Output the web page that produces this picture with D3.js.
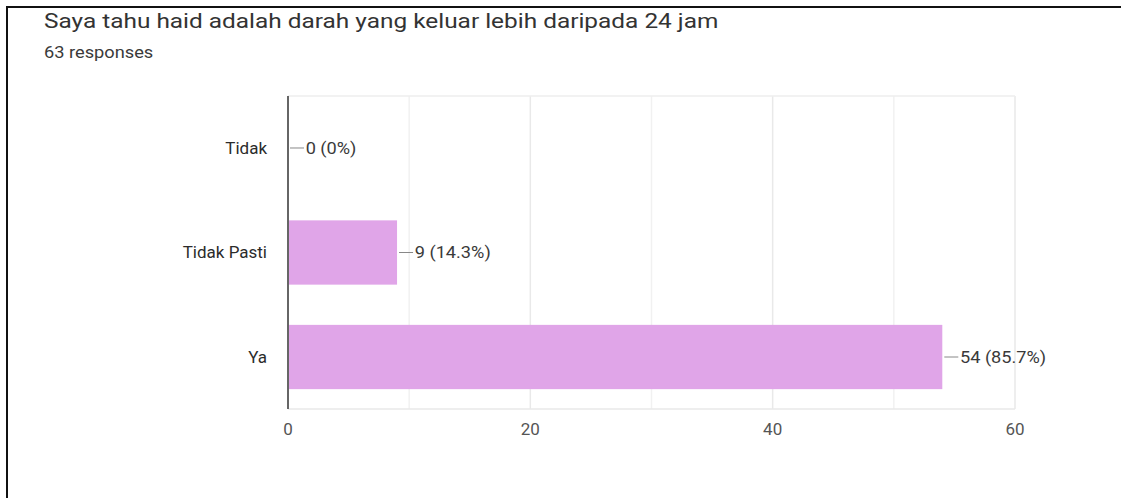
<!DOCTYPE html>
<html>
<head>
<meta charset="utf-8">
<script src="https://cdn.jsdelivr.net/npm/d3@7"></script>
<style>
  html, body { margin: 0; padding: 0; background: #fff; }
  text { font-family: Roboto, Arial, sans-serif; }
</style>
</head>
<body>
<main></main>
<script>
var categories = ["Tidak", "Tidak Pasti", "Ya"];
var counts = [0, 9, 54];
var percentLabels = ["0%", "14.3%", "85.7%"];
var tickValues = [0, 20, 40, 60];
var gridValues = [0, 10, 20, 30, 40, 50, 60];
var title = "Saya tahu haid adalah darah yang keluar lebih daripada 24 jam";
var subtitle = "63 responses";

var rows = categories.map(function (c, i) {
    return { name: c, value: counts[i], pct: percentLabels[i] };
});

var svg = d3.select("main")
    .append("svg")
    .attr("width", 1121)
    .attr("height", 498);

// the screenshot is a bit stretched sideways, so text gets a small x scale
function stretchedText(parent, px, py, k) {
    return parent.append("text")
        .attr("transform", "translate(" + px + "," + py + ") scale(" + k + ",1)");
}

// frame lines of the screenshot
svg.append("line")
    .attr("x1", 6).attr("x2", 1121).attr("y1", 7).attr("y2", 7)
    .attr("stroke", "#111").attr("stroke-width", 2);
svg.append("line")
    .attr("x1", 7).attr("x2", 7).attr("y1", 6).attr("y2", 498)
    .attr("stroke", "#111").attr("stroke-width", 2);

stretchedText(svg, 44, 28, 1.22)
    .attr("font-size", 20)
    .attr("fill", "#333")
    .text(title);

stretchedText(svg, 44, 58, 1.14)
    .attr("font-size", 16)
    .attr("fill", "#3a3a3a")
    .text(subtitle);

var plotLeft = 288, plotRight = 1015, plotTop = 96, plotBottom = 409;

var x = d3.scaleLinear().domain([0, 60]).range([plotLeft, plotRight]);
var y = d3.scaleBand().domain(categories).range([plotTop, plotBottom]).paddingInner(0.385).paddingOuter(0.19);

var plot = svg.append("g").attr("id", "plot-area");

plot.selectAll("line.grid")
    .data(gridValues)
    .enter()
    .append("line")
    .attr("class", "grid")
    .attr("x1", function (d) { return x(d); })
    .attr("x2", function (d) { return x(d); })
    .attr("y1", plotTop)
    .attr("y2", plotBottom)
    .attr("stroke", function (d) { return d % 20 === 0 ? "#e9e9e9" : "#f1f1f1"; })
    .attr("stroke-width", 1.5);

plot.append("line")
    .attr("x1", plotLeft).attr("x2", plotRight).attr("y1", plotTop).attr("y2", plotTop)
    .attr("stroke", "#eeeeee").attr("stroke-width", 1.5);
plot.append("line")
    .attr("x1", plotLeft).attr("x2", plotRight).attr("y1", plotBottom).attr("y2", plotBottom)
    .attr("stroke", "#e9e9e9").attr("stroke-width", 1.5);

plot.selectAll("rect.bar")
    .data(rows)
    .enter()
    .append("rect")
    .attr("class", "bar")
    .attr("x", x(0))
    .attr("y", function (d) { return y(d.name); })
    .attr("width", function (d) { return x(d.value) - x(0); })
    .attr("height", y.bandwidth())
    .attr("fill", "#e0a5e8");

// baseline axis
plot.append("line")
    .attr("x1", x(0)).attr("x2", x(0)).attr("y1", plotTop).attr("y2", plotBottom)
    .attr("stroke", "#666").attr("stroke-width", 2);

// leader lines and value labels
var labels = plot.selectAll("g.vlabel")
    .data(rows)
    .enter()
    .append("g")
    .attr("class", "vlabel")
    .attr("transform", function (d) {
        return "translate(" + x(d.value) + "," + (y(d.name) + y.bandwidth() / 2) + ")";
    });

labels.append("line")
    .attr("x1", 2).attr("x2", 16).attr("y1", 0).attr("y2", 0)
    .attr("stroke", "#888").attr("stroke-width", 1);

labels.append("text")
    .attr("x", 16.5)
    .attr("dy", "0.35em")
    .attr("font-size", 17)
    .attr("transform", "scale(1.07,1)")
    .attr("fill", "#3a3a3a")
    .text(function (d) { return d.value + " (" + d.pct + ")"; });

// category labels
plot.selectAll("text.cat")
    .data(rows)
    .enter()
    .append("text")
    .attr("class", "cat")
    .attr("x", 267)
    .attr("y", function (d) { return y(d.name) + y.bandwidth() / 2; })
    .attr("dy", "0.35em")
    .attr("text-anchor", "end")
    .attr("font-size", 17)
    .attr("fill", "#2b2b2b")
    .text(function (d) { return d.name; });

// x tick labels
plot.selectAll("text.tick")
    .data(tickValues)
    .enter()
    .append("text")
    .attr("class", "tick")
    .attr("x", function (d) { return x(d); })
    .attr("y", 435)
    .attr("text-anchor", "middle")
    .attr("font-size", 17)
    .attr("fill", "#555")
    .text(function (d) { return d; });
</script>
</body>
</html>
